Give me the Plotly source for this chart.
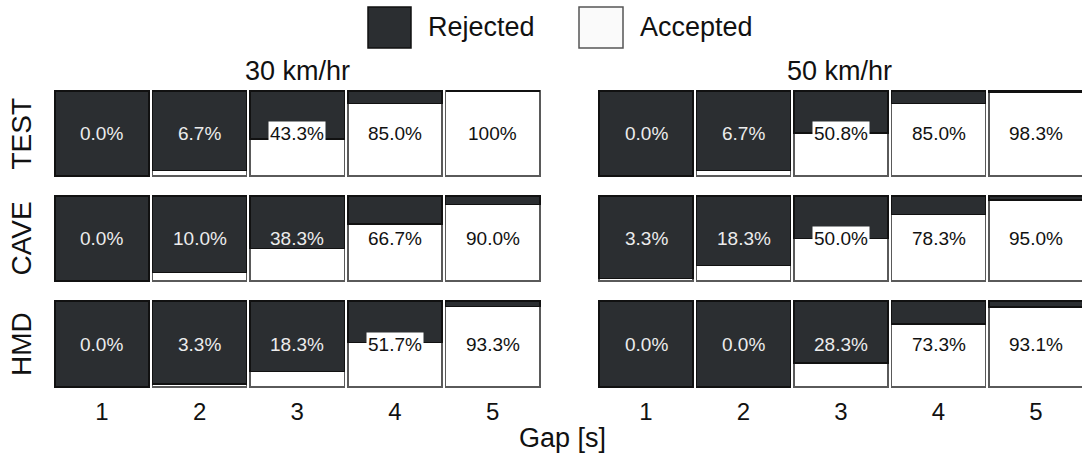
import plotly.graph_objects as go
from plotly.subplots import make_subplots

# Gap sizes (s) and acceptance rates (%) per display condition and speed
gaps = [1, 2, 3, 4, 5]
conditions = ["TEST", "CAVE", "HMD"]
speeds = ["30 km/hr", "50 km/hr"]

accepted_30_test = [0.0, 6.7, 43.3, 85.0, 100.0]
accepted_30_cave = [0.0, 10.0, 38.3, 66.7, 90.0]
accepted_30_hmd = [0.0, 3.3, 18.3, 51.7, 93.3]
accepted_50_test = [0.0, 6.7, 50.8, 85.0, 98.3]
accepted_50_cave = [3.3, 18.3, 50.0, 78.3, 95.0]
accepted_50_hmd = [0.0, 0.0, 28.3, 73.3, 93.1]

series = {
    ("TEST", "30 km/hr"): accepted_30_test,
    ("CAVE", "30 km/hr"): accepted_30_cave,
    ("HMD", "30 km/hr"): accepted_30_hmd,
    ("TEST", "50 km/hr"): accepted_50_test,
    ("CAVE", "50 km/hr"): accepted_50_cave,
    ("HMD", "50 km/hr"): accepted_50_hmd,
}

W, H = 1082, 458
DARK = "#2b2e31"
LIGHT = "#ffffff"
FONT = "Arial"
INK = "#111111"


def px_x(p):
    return p / W


def px_y(p):
    return 1 - p / H


fig = make_subplots(rows=3, cols=2)

# panel geometry (pixels)
col_dom = [(53, 541.5), (597.3, 1082)]
col_range = [[0.5, 5.5], [0.5, 5.472]]
bar_w = 0.965
row_dom = [(90, 177), (195, 282), (300, 388)]

for r, cond in enumerate(conditions):
    for c, speed in enumerate(speeds):
        acc = series[(cond, speed)]
        rej = [100 - a for a in acc]
        fig.add_trace(go.Bar(x=gaps, y=acc, width=bar_w,
                             marker=dict(color=LIGHT, line=dict(color="#5a5a5a", width=1.6)),
                             hoverinfo="skip", showlegend=False), row=r + 1, col=c + 1)
        fig.add_trace(go.Bar(x=gaps, y=rej, width=bar_w,
                             marker=dict(color=DARK, line=dict(color="#111111", width=1.6)),
                             hoverinfo="skip", showlegend=False), row=r + 1, col=c + 1)
        idx = r * 2 + c + 1
        xa = "xaxis" if idx == 1 else f"xaxis{idx}"
        ya = "yaxis" if idx == 1 else f"yaxis{idx}"
        fig.layout[xa].update(domain=[px_x(col_dom[c][0]), px_x(col_dom[c][1])], range=col_range[c],
                              tickvals=gaps, ticktext=[str(g) for g in gaps], showticklabels=(r == 2),
                              showgrid=False, zeroline=False, showline=False, ticks="",
                              tickfont=dict(size=24, color=INK, family=FONT), ticklabelstandoff=7)
        fig.layout[ya].update(domain=[px_y(row_dom[r][1]), px_y(row_dom[r][0])], range=[-1.0, 101.0],
                              visible=False, showgrid=False, zeroline=False)
        xref = "x" if idx == 1 else f"x{idx}"
        yref = "y" if idx == 1 else f"y{idx}"
        for g, a in zip(gaps, acc):
            label = "100%" if a >= 100 else f"{a:.1f}%"
            if a < 40:
                color, bg = "#ececec", None
            elif a < 60:
                color, bg = INK, "#ffffff"
            else:
                color, bg = INK, None
            fig.add_annotation(x=g, y=50, xref=xref, yref=yref, text=label, showarrow=False,
                               font=dict(size=19, color=color, family=FONT),
                               bgcolor=bg, borderpad=1)

# panel titles
title_x = [297, 839]
for c, speed in enumerate(speeds):
    fig.add_annotation(x=px_x(title_x[c]), y=px_y(71), xref="paper", yref="paper", text=speed, showarrow=False,
                       font=dict(size=27, color=INK, family=FONT), xanchor="center", yanchor="middle")

# row labels
for r, cond in enumerate(conditions):
    cy = (row_dom[r][0] + row_dom[r][1]) / 2
    fig.add_annotation(x=px_x(21), y=px_y(cy), xref="paper", yref="paper", text=cond, showarrow=False,
                       textangle=-90, font=dict(size=28, color=INK, family=FONT),
                       xanchor="center", yanchor="middle")

# shared x-axis title
fig.add_annotation(x=px_x(562), y=px_y(438), xref="paper", yref="paper", text="Gap [s]", showarrow=False,
                   font=dict(size=27, color=INK, family=FONT), xanchor="center", yanchor="middle")

# legend
legend_items = [("Rejected", DARK, "#111111", 368, 411), ("Accepted", "#fafafa", "#555555", 579, 623)]
for name, fill, edge, x0, x1 in legend_items:
    fig.add_shape(type="rect", xref="paper", yref="paper", x0=px_x(x0), x1=px_x(x1), y0=px_y(48), y1=px_y(7),
                  fillcolor=fill, line=dict(color=edge, width=1.5))
    fig.add_annotation(x=px_x(x1 + 15), y=px_y(27), xref="paper", yref="paper", text=name, showarrow=False,
                       font=dict(size=27, color=INK, family=FONT), xanchor="left", yanchor="middle")

fig.update_layout(width=W, height=H, margin=dict(l=0, r=0, t=0, b=0), barmode="stack",
                  plot_bgcolor="white", paper_bgcolor="white", showlegend=False)

fig.write_html("out.html")
